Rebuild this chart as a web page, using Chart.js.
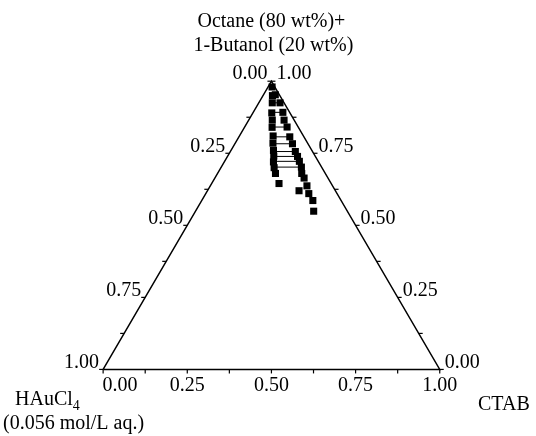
<!DOCTYPE html>
<html>
<head>
<meta charset="utf-8">
<script src="https://cdn.jsdelivr.net/npm/chart.js"></script>
<style>
  body { margin: 0; background: #fff; }
  #box { width: 536px; height: 436px; }
</style>
</head>
<body>
<div id="box"><canvas id="myChart"></canvas></div>
<script>

// data: oil phase fraction and CTAB fraction (HAuCl4 aq. = rest)

const oilLeft  = [0.98, 0.95, 0.925, 0.89, 0.865, 0.84, 0.81, 0.785, 0.76, 0.74, 0.72, 0.70, 0.68, 0.645];
const ctabLeft = [0.012, 0.028, 0.04, 0.056, 0.07, 0.082, 0.1, 0.112, 0.126, 0.137, 0.146, 0.158, 0.172, 0.2];

const oilRight  = [0.953, 0.925, 0.892, 0.865, 0.841, 0.807, 0.783, 0.756, 0.739, 0.722, 0.702, 0.68, 0.664, 0.637, 0.62, 0.61, 0.586, 0.549];
const ctabRight = [0.035, 0.063, 0.088, 0.105, 0.126, 0.151, 0.171, 0.193, 0.208, 0.222, 0.238, 0.25, 0.265, 0.287, 0.272, 0.306, 0.33, 0.351];

const tieOil   = [0.925, 0.892, 0.841, 0.807, 0.783, 0.756, 0.739, 0.722, 0.702];
const tieLeft  = [0.04, 0.054, 0.08, 0.1, 0.112, 0.126, 0.137, 0.146, 0.158];
const tieRight = [0.063, 0.088, 0.126, 0.151, 0.171, 0.193, 0.208, 0.222, 0.238];

const tickValues = [0, 0.125, 0.25, 0.375, 0.5, 0.625, 0.75, 0.875, 1];
const tickLabels = ['0.00', '0.25', '0.50', '0.75', '1.00'];

// ternary -> plot coords
function tern(oil, ctab) {
  return { x: ctab + oil / 2, y: oil };
}

const FONT = '20px "Liberation Serif", "Times New Roman", serif';

const pointsLeft = oilLeft.map((o, i) => tern(o, ctabLeft[i]));
const pointsRight = oilRight.map((o, i) => tern(o, ctabRight[i]));

let datasets = [];

// triangle frame
datasets.push({
  data: [tern(0, 0), tern(0, 1), tern(1, 0), tern(0, 0)],
  showLine: true,
  borderColor: '#000',
  borderWidth: 1.5,
  pointRadius: 0
});

// tie lines
tieOil.forEach(function (o, i) {
  datasets.push({
    data: [tern(o, tieLeft[i]), tern(o, tieRight[i])],
    showLine: true,
    borderColor: '#000',
    borderWidth: 1,
    pointRadius: 0
  });
});

datasets.push({
  data: pointsLeft,
  pointStyle: 'rect',
  pointRadius: 5,
  backgroundColor: '#000',
  borderColor: '#000',
  borderWidth: 0
});
datasets.push({
  data: pointsRight,
  pointStyle: 'rect',
  pointRadius: 5,
  backgroundColor: '#000',
  borderColor: '#000',
  borderWidth: 0
});

// ticks + texts
const ternaryAxes = {
  id: 'ternaryAxes',
  afterDatasetsDraw(chart) {
    const c = chart.ctx;
    const sx = chart.scales.x, sy = chart.scales.y;
    const px = p => [sx.getPixelForValue(p.x), sy.getPixelForValue(p.y)];

    c.save();
    c.strokeStyle = '#000';
    c.lineWidth = 1.2;
    c.fillStyle = '#000';
    c.font = FONT;
    c.textBaseline = 'middle';

    tickValues.forEach(function (v, i) {
      const major = i % 2 === 0;
      // left edge (HAuCl4), 0 at top
      let [x, y] = px(tern(1 - v, 0));
      c.beginPath(); c.moveTo(x, y); c.lineTo(x - 4, y); c.stroke();
      if (major) {
        c.textAlign = 'right';
        c.fillText(tickLabels[i / 2], x - 4, y - 7);
      }
      // right edge (oil), 1 at top
      [x, y] = px(tern(v, 1 - v));
      c.beginPath(); c.moveTo(x, y); c.lineTo(x + 4, y); c.stroke();
      if (major) {
        c.textAlign = 'left';
        c.fillText(tickLabels[i / 2], x + 5, y - 7);
      }
      // bottom (CTAB)
      [x, y] = px(tern(0, v));
      c.beginPath(); c.moveTo(x, y); c.lineTo(x, y + 4); c.stroke();
      if (major) {
        c.textAlign = 'center';
        c.fillText(tickLabels[i / 2], v == 0 ? x + 17 : x, y + 16);
      }
    });

    // corner names
    let [ax, ay] = px(tern(1, 0));
    c.textAlign = 'center';
    c.fillText('Octane (80 wt%)+', ax, 22);
    c.fillText('1-Butanol (20 wt%)', ax + 2, 46);

    c.textAlign = 'left';
    c.fillText('CTAB', 478, 405);

    c.fillText('HAuCl', 15, 400);
    let w = c.measureText('HAuCl').width;
    c.font = '14px "Liberation Serif", serif';
    c.fillText('4', 15 + w, 406);
    c.font = FONT;
    c.fillText('(0.056 mol/L aq.)', 3, 424);

    c.restore();
  }
};

const ctx = document.getElementById('myChart');

new Chart(ctx, {
  type: 'scatter',
  data: { datasets: datasets },
  options: {
    responsive: true,
    maintainAspectRatio: false,
    animation: false,
    layout: { padding: 0 },
    plugins: {
      legend: { display: false },
      tooltip: { enabled: false }
    },
    scales: {
      x: { type: 'linear', display: false, min: -0.2915, max: 1.2711 },
      y: { type: 'linear', display: false, min: -0.2136, max: 1.2644 }
    }
  },
  plugins: [ternaryAxes]
});

</script>
</body>
</html>
